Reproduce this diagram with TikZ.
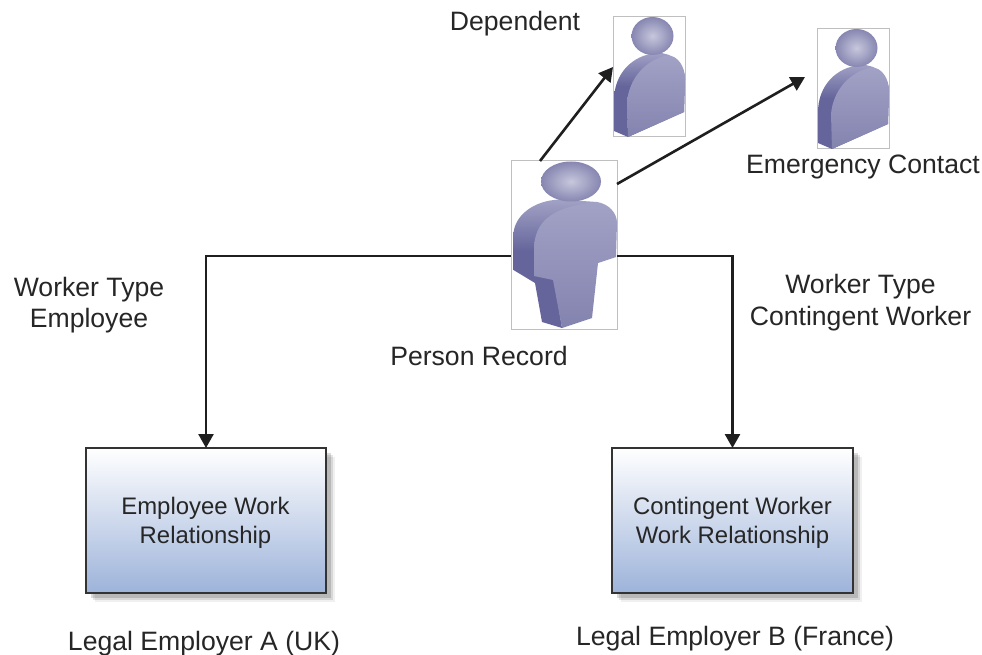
\documentclass[tikz,border=0pt]{standalone}
\usepackage{fontspec}
\setmainfont{Liberation Sans}
\usetikzlibrary{arrows.meta,positioning}
\definecolor{ink}{HTML}{262626}
\definecolor{figdark}{HTML}{65659C}
\definecolor{figtop}{HTML}{A2A2C6}
\definecolor{figbot}{HTML}{8383AF}
\definecolor{boxbot}{HTML}{9DB3DA}
\pgfdeclareverticalshading{sidegrad}{100bp}{color(0bp)=(figdark); color(55bp)=(figdark); color(75bp)=(figtop); color(100bp)=(figtop)}
\tikzset{
  photo/.style={draw=black!25,line width=1pt,fill=white,inner sep=0pt,outer sep=0pt,anchor=north west},
  label/.style={text=ink,align=center,inner sep=0pt,font=\fontsize{26.6}{31.5}\selectfont},
  boxlabel/.style={text=ink,align=center,inner sep=0pt,font=\fontsize{23.9}{29}\selectfont},
  relbox/.style={draw=black!80,line width=2.6pt,top color=white,bottom color=boxbot,inner sep=0pt,outer sep=0pt,anchor=north west,minimum width=240pt,minimum height=145pt},
  wire/.style={draw=black!88,line width=2.6pt,-{Triangle[length=14pt,width=15pt]}},
  sideface/.style={shading=sidegrad,draw=none},
  frontface/.style={top color=figtop,bottom color=figbot,draw=none},
  headball/.style={inner color=figtop!60!white,outer color=figbot!90!figtop},
}
\newcommand{\smallfigure}[2]{%
\begin{scope}[shift={(#1,#2)}]
  \path[sideface] (15,120) -- (1,114) -- (1,83)
     .. controls (1,58) and (18,38) .. (44,36) .. controls (60,35) and (72,48) .. (72,62) -- (71,95) -- cycle;
  \path[frontface] (15,120) -- (14,85) .. controls (16,62) and (32,43) .. (54,38.5)
     .. controls (65,38) and (72,50) .. (72,62) -- (71,95) -- cycle;
  \path[headball] (39.5,19) ellipse [x radius=21,y radius=19];
\end{scope}}
\newcommand{\bigfigure}[2]{%
\begin{scope}[shift={(#1,#2)}]
  \path[sideface] (2.5,109) -- (2.5,72) .. controls (4,55) and (22,39) .. (50,38.5)
     -- (86,41) -- (60,100) -- (43,119) -- (51,167) -- (31,161) -- (24,122) -- cycle;
  \path[frontface] (23,115) -- (23,85) .. controls (25,62) and (38,46) .. (86,41)
     .. controls (98,43) and (106,52) .. (106,62) -- (105,96) -- (87,102) -- (81,157) -- (51,167) -- (42,119) -- cycle;
  \path[headball] (60,20.5) ellipse [x radius=30,y radius=20];
\end{scope}}
\begin{document}
\begin{tikzpicture}[x=1pt,y=-1pt]
\useasboundingbox[fill=white] (0,0) rectangle (982,655);
% photo frames
\node[photo,minimum width=72pt,minimum height=120pt] (dep) at (613,17) {};
\node[photo,minimum width=72pt,minimum height=120pt] (eme) at (817,29) {};
\node[photo,minimum width=106pt,minimum height=168pt] (rec) at (511,161) {};
\smallfigure{613}{17}
\smallfigure{817}{29}
\bigfigure{511}{161}
% shadows
\foreach \d/\o in {9/0.06,7/0.10,5/0.14}{
  \fill[black,opacity=\o] (86+\d,448+\d) rectangle (326+\d,593+\d);
  \fill[black,opacity=\o] (612+\d,448+\d) rectangle (853+\d,593+\d);
}
\node[relbox] (emp) at (86,448) {};
\node[relbox,minimum width=241pt] (con) at (612,448) {};
\node[boxlabel] (emptext) at (205.5,522.5) {Employee Work\\Relationship};
\node[boxlabel] (context) at (732.5,522.5) {Contingent Worker\\Work Relationship};
% connectors
\draw[wire] ([xshift=-24pt]rec.north) -- ([yshift=10pt]dep.west);
\draw[wire] ([yshift=61pt]rec.east) -- ([xshift=-12pt]eme.west |- 0,77);
\draw[wire] ([yshift=-11pt]rec.west) -| (emp.north);
\draw[wire] ([yshift=-11pt]rec.east) -| (con.north);
% labels
\node[label] (l1) at (515,24) {Dependent};
\node[label] (l2) at (863,167) {Emergency Contact};
\node[label] (l3) at (479,355.5) {Person Record};
\node[label] (l4) at (89,305) {Worker Type\\Employee};
\node[label] (l5) at (860.5,302.5) {Worker Type\\Contingent Worker};
\node[label] (l6) at (204,644) {Legal Employer A (UK)};
\node[label] (l7) at (735,639) {Legal Employer B (France)};
\end{tikzpicture}
\end{document}
